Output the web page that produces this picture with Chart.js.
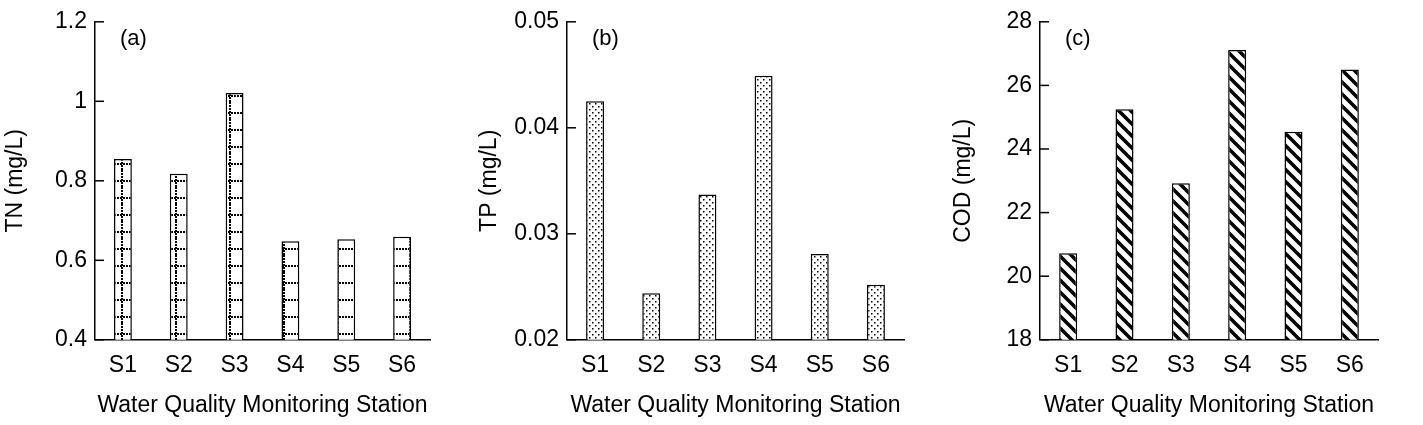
<!DOCTYPE html>
<html>
<head>
<meta charset="utf-8">
<script src="https://cdn.jsdelivr.net/npm/chart.js@4/dist/chart.umd.min.js"></script>
<style>
  body { margin: 0; background: #fff; }
  .panel { position: absolute; top: 0; width: 474px; height: 425px; }
</style>
</head>
<body>
<div class="panel" style="left:0"><canvas id="chartA"></canvas></div>
<div class="panel" style="left:474px"><canvas id="chartB"></canvas></div>
<div class="panel" style="left:948px"><canvas id="chartC"></canvas></div>
<script>
// Data
const stations = ["S1", "S2", "S3", "S4", "S5", "S6"];
const tnValues = [0.855, 0.818, 1.021, 0.648, 0.653, 0.659];
const tpValues = [0.0425, 0.0244, 0.0337, 0.0449, 0.0281, 0.0252];
const codValues = [20.72, 25.25, 22.92, 27.11, 24.54, 26.5];

const FONT = "'Liberation Sans', Arial, sans-serif";

// Fill patterns
function makePattern(w, h, draw) {
    const c = document.createElement("canvas");
    c.width = w; c.height = h;
    const g = c.getContext("2d");
    g.fillStyle = "#fff";
    g.fillRect(0, 0, w, h);
    g.fillStyle = "#000";
    draw(g);
    return c.getContext("2d").createPattern(c, "repeat");
}

const gridPattern = makePattern(18, 17, g => {
    for (let y = 0; y < 17; y += 3) g.fillRect(13, y, 2, 2);
    for (let x = 0; x < 18; x += 3) g.fillRect(x, 10, 2, 2);
});
const dotPattern = makePattern(6, 6, g => {
    g.fillRect(1, 1, 1.5, 1.5);
    g.fillRect(4, 4, 1.5, 1.5);
});
const stripePattern = makePattern(12, 12, g => {
    g.strokeStyle = "#000";
    g.lineWidth = 3.5;
    for (let k = -12; k <= 12; k += 12) {
        g.beginPath();
        g.moveTo(k - 2, -2);
        g.lineTo(k + 14, 14);
        g.stroke();
    }
});

// Inward tick marks on the y axis and the panel letter
const innerTicks = {
    id: "innerTicks",
    afterDraw(chart, args, opts) {
        const ctx = chart.ctx;
        const y = chart.scales.y;
        const area = chart.chartArea;
        ctx.save();
        ctx.strokeStyle = "#000";
        ctx.lineWidth = 1.5;
        y.ticks.forEach(t => {
            const py = y.getPixelForValue(t.value);
            ctx.beginPath();
            ctx.moveTo(area.left, py);
            ctx.lineTo(area.left + 9, py);
            ctx.stroke();
        });
        ctx.fillStyle = "#000";
        ctx.font = "22px " + FONT;
        ctx.textBaseline = "middle";
        ctx.fillText(opts.letter, area.left + 25, area.top + 17);
        ctx.restore();
    }
};

function makeChart(id, values, pattern, min, max, step, yTitle, letter, axisWidth, dec) {
    return new Chart(document.getElementById(id), {
        type: "bar",
        data: {
            labels: stations,
            datasets: [{
                data: values,
                backgroundColor: pattern,
                borderColor: "#000",
                borderWidth: 1.5,
                borderSkipped: "bottom",
                categoryPercentage: 1,
                barPercentage: 0.32
            }]
        },
        options: {
            responsive: true,
            maintainAspectRatio: false,
            animation: false,
            layout: { padding: { top: 8, right: 44, bottom: 6 } },
            plugins: { legend: { display: false }, tooltip: { enabled: false }, innerTicks: { letter: letter } },
            scales: {
                x: {
                    grid: { display: false, drawTicks: false, tickLength: 0 },
                    border: { color: "#000", width: 1.5 },
                    ticks: { color: "#000", font: { family: FONT, size: 23 }, padding: 12 },
                    title: { display: true, text: "Water Quality Monitoring Station", color: "#000",
                             font: { family: FONT, size: 23 }, padding: 0 }
                },
                y: {
                    min: min, max: max,
                    grid: { display: false, drawTicks: false, tickLength: 0 },
                    border: { color: "#000", width: 1.5 },
                    ticks: { stepSize: step, color: "#000", font: { family: FONT, size: 23 }, padding: 8,
                             callback: v => parseFloat(v.toFixed(dec)).toString() },
                    title: { display: true, text: yTitle, color: "#000", font: { family: FONT, size: 23 }, padding: 2 },
                    afterFit: s => { s.width = axisWidth; }
                }
            }
        },
        plugins: [innerTicks]
    });
}

makeChart("chartA", tnValues, gridPattern, 0.4, 1.2, 0.2, "TN (mg/L)", "(a)", 95, 1);
makeChart("chartB", tpValues, dotPattern, 0.02, 0.05, 0.01, "TP (mg/L)", "(b)", 93, 2);
makeChart("chartC", codValues, stripePattern, 18, 28, 2, "COD (mg/L)", "(c)", 92, 0);
</script>
</body>
</html>
